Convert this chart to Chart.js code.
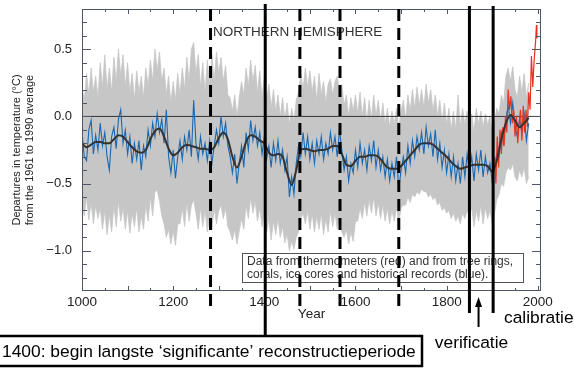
<!DOCTYPE html>
<html>
<head>
<meta charset="utf-8">
<script src="https://cdn.jsdelivr.net/npm/chart.js@4/dist/chart.umd.min.js"></script>
<style>
  html, body { margin: 0; padding: 0; background: #fff; }
  #wrap { width: 575px; height: 370px; }
</style>
</head>
<body>
<div id="wrap"><canvas id="grafiek" width="575" height="370"></canvas></div>
<script>
// Years of the reconstruction (every 5 years) and of the smoothed curve (every 10 years)
const reconStart = 1000, reconStep = 5, smoothStep = 10;

// Blue: proxy reconstruction (tree rings, corals, ice cores, historical records)
const reconValues = [
  -0.12,-0.30,-0.33,-0.10,-0.03,-0.28,-0.14,-0.25,-0.05,-0.22,
  -0.12,-0.30,-0.40,-0.15,-0.08,-0.24,-0.02,0.05,-0.20,-0.10,
  -0.28,-0.15,-0.35,-0.20,-0.32,-0.18,-0.40,-0.22,-0.30,-0.10,
  -0.22,-0.05,-0.15,0.02,-0.12,-0.02,-0.20,0.05,-0.30,-0.42,
  -0.25,-0.46,-0.30,-0.18,-0.32,-0.15,-0.25,-0.10,-0.30,0.12,
  -0.20,-0.32,-0.15,-0.28,-0.20,-0.33,-0.18,-0.35,-0.22,-0.10,
  -0.20,0.00,-0.15,-0.05,-0.22,-0.30,-0.42,-0.28,-0.50,-0.35,
  -0.22,-0.38,-0.12,-0.25,-0.03,-0.18,-0.08,-0.22,-0.12,-0.28,
  -0.15,-0.32,-0.22,-0.38,-0.20,-0.33,-0.18,-0.35,-0.25,-0.40,
  -0.30,-0.60,-0.45,-0.58,-0.35,-0.22,-0.30,-0.12,-0.28,-0.15,
  -0.32,-0.20,-0.35,-0.18,-0.28,-0.15,-0.32,-0.20,-0.28,-0.12,
  -0.25,-0.15,-0.30,-0.10,-0.25,-0.40,-0.30,-0.48,-0.35,-0.42,
  -0.25,-0.38,-0.20,-0.35,-0.25,-0.40,-0.22,-0.33,-0.18,-0.38,
  -0.25,-0.40,-0.30,-0.45,-0.32,-0.48,-0.35,-0.45,-0.30,-0.54,
  -0.40,-0.30,-0.42,-0.22,-0.35,-0.18,-0.30,-0.15,-0.25,-0.12,
  -0.28,-0.08,-0.22,-0.13,-0.30,-0.10,-0.32,-0.20,-0.38,-0.25,
  -0.42,-0.28,-0.45,-0.30,-0.48,-0.35,-0.50,-0.30,-0.45,-0.28,
  -0.42,-0.30,-0.48,-0.28,-0.40,-0.25,-0.45,-0.30,-0.42,-0.35,
  -0.49,-0.38,-0.28,-0.30,-0.12,-0.20,-0.02,0.08,-0.05,0.10,
  -0.08,-0.15,-0.02,-0.12,0.02,-0.18,-0.05
];

// Grey: upper and lower limits of the uncertainty band
const bandUpper = [
  0.22,0.12,0.32,0.16,0.36,0.18,0.30,0.14,0.40,0.22,
  0.46,0.20,0.36,0.18,0.44,0.26,0.50,0.30,0.46,0.22,
  0.40,0.18,0.32,0.12,0.34,0.18,0.30,0.14,0.36,0.22,
  0.42,0.26,0.50,0.34,0.48,0.26,0.36,0.16,0.30,0.10,
  0.26,0.12,0.32,0.16,0.36,0.20,0.44,0.26,0.50,0.55,
  0.32,0.46,0.22,0.40,0.18,0.42,0.24,0.46,0.26,0.48,
  0.32,0.44,0.26,0.38,0.16,0.14,0.04,0.16,0.00,0.14,
  0.26,0.16,0.36,0.22,0.42,0.26,0.38,0.18,0.34,0.14,
  0.30,0.12,0.24,0.06,0.20,0.04,0.16,0.00,0.14,-0.02,
  0.10,-0.06,0.06,-0.04,0.12,0.18,0.32,0.20,0.36,0.22,
  0.34,0.18,0.30,0.12,0.32,0.16,0.26,0.10,0.24,0.28,
  0.16,0.26,0.30,0.18,0.24,0.08,0.16,0.00,0.14,0.04,
  0.16,0.02,0.18,0.00,0.14,-0.04,0.12,-0.02,0.16,0.00,
  0.12,-0.04,0.10,-0.06,0.06,-0.08,0.04,-0.06,0.06,-0.08,
  0.04,0.12,-0.02,0.16,0.04,0.20,0.06,0.22,0.08,0.20,
  0.06,0.24,0.10,0.20,0.04,0.16,0.00,0.12,-0.04,0.10,
  -0.06,0.06,-0.10,0.04,-0.10,0.16,-0.08,0.06,-0.06,0.04,
  -0.10,0.02,-0.12,0.06,-0.06,0.04,-0.08,0.02,-0.06,0.00,
  -0.12,-0.04,0.06,0.02,0.16,0.10,0.30,0.36,0.26,0.37,
  0.20,0.14,0.30,0.18,0.32,0.14,0.25
];
const bandLower = [
  -0.65,-0.74,-0.60,-0.77,-0.64,-0.80,-0.66,-0.76,-0.68,-0.84,
  -0.70,-0.88,-0.73,-0.86,-0.66,-0.82,-0.63,-0.78,-0.68,-0.84,
  -0.70,-0.87,-0.72,-0.82,-0.68,-0.86,-0.74,-0.84,-0.66,-0.78,
  -0.60,-0.74,-0.56,-0.55,-0.63,-0.74,-0.80,-0.90,-0.84,-0.95,
  -0.85,-0.96,-0.80,-0.80,-0.68,-0.82,-0.64,-0.78,-0.66,-0.62,
  -0.72,-0.84,-0.68,-0.82,-0.70,-0.86,-0.73,-0.84,-0.68,-0.80,
  -0.70,-0.66,-0.76,-0.68,-0.82,-0.86,-0.92,-0.84,-0.95,-0.85,
  -0.76,-0.84,-0.66,-0.76,-0.60,-0.72,-0.63,-0.78,-0.68,-0.82,
  -0.72,-0.86,-0.76,-0.92,-0.78,-0.88,-0.76,-0.90,-0.82,-0.94,
  -0.88,-1.00,-0.93,-0.99,-0.90,-0.86,-0.76,-0.72,-0.80,-0.70,
  -0.84,-0.72,-0.86,-0.74,-0.84,-0.72,-0.88,-0.76,-0.86,-0.70,
  -0.82,-0.72,-0.84,-0.74,-0.86,-0.90,-0.84,-0.95,-0.86,-0.93,
  -0.78,-0.78,-0.68,-0.76,-0.64,-0.74,-0.62,-0.72,-0.60,-0.74,
  -0.64,-0.76,-0.66,-0.78,-0.68,-0.80,-0.70,-0.78,-0.68,-0.80,
  -0.68,-0.66,-0.66,-0.60,-0.64,-0.58,-0.60,-0.56,-0.58,-0.54,
  -0.56,-0.56,-0.60,-0.58,-0.62,-0.60,-0.66,-0.64,-0.70,-0.68,
  -0.72,-0.70,-0.76,-0.72,-0.78,-0.74,-0.80,-0.72,-0.76,-0.70,
  -0.74,-0.68,-0.82,-0.70,-0.78,-0.66,-0.80,-0.68,-0.76,-0.70,
  -0.80,-0.72,-0.62,-0.58,-0.50,-0.52,-0.42,-0.38,-0.40,-0.35,
  -0.45,-0.48,-0.40,-0.45,-0.38,-0.50,-0.45
];

// Black: smoothed curve
const smoothValues = [
  -0.20,-0.23,-0.21,-0.19,-0.19,-0.20,-0.20,-0.17,-0.14,-0.15,
  -0.19,-0.23,-0.26,-0.27,-0.25,-0.17,-0.11,-0.09,-0.15,-0.24,
  -0.29,-0.27,-0.23,-0.21,-0.22,-0.23,-0.24,-0.24,-0.25,-0.23,
  -0.16,-0.12,-0.17,-0.30,-0.38,-0.30,-0.19,-0.14,-0.15,-0.18,
  -0.20,-0.27,-0.29,-0.28,-0.30,-0.42,-0.51,-0.40,-0.25,-0.24,
  -0.25,-0.26,-0.25,-0.25,-0.24,-0.22,-0.22,-0.28,-0.36,-0.37,
  -0.33,-0.30,-0.30,-0.29,-0.29,-0.30,-0.34,-0.38,-0.39,-0.39,
  -0.37,-0.33,-0.29,-0.25,-0.21,-0.20,-0.20,-0.21,-0.24,-0.27,
  -0.30,-0.34,-0.37,-0.39,-0.38,-0.37,-0.36,-0.36,-0.36,-0.37,
  -0.41,-0.33,-0.17,-0.05,0.01,-0.03,-0.08,-0.05,-0.01
];

// Red: thermometer data
const thermoYears = [1905,1908,1911,1914,1917,1920,1923,1926,1929,1932,1935,1938,1941,1944,1947,1950,
  1953,1956,1959,1962,1965,1968,1971,1974,1977,1980,1983,1986,1989,1992,1995,1997,1998];
const thermoValues = [-0.30,-0.50,-0.15,-0.38,-0.10,-0.28,-0.08,-0.22,0.00,-0.12,0.20,0.05,0.15,-0.05,0.05,-0.15,
  0.00,-0.20,-0.05,0.05,-0.18,0.08,-0.12,0.05,-0.08,0.18,0.05,0.45,0.22,0.42,0.55,0.68,0.58];

// Axes
const xTicks = [1000, 1200, 1400, 1600, 1800, 2000];
const yTicks = [-1.0, -0.5, 0.0, 0.5];
const xMin = 1000, xMax = 2007, yMin = -1.3, yMax = 0.8;

// Annotation years
const dashedYears = [1282, 1478, 1566, 1695];
const startYear = 1402;
const verifYears = [1850, 1902];
const arrowYear = 1870;

const FONT = "'Liberation Sans', Arial, Helvetica, sans-serif";

function yearsFrom(start, step, n) {
  const out = [];
  for (let i = 0; i < n; i++) out.push(start + i * step);
  return out;
}

function toPoints(xs, ys) {
  return ys.map((v, i) => ({ x: xs[i], y: v }));
}

const reconYears = yearsFrom(reconStart, reconStep, reconValues.length);
const smoothYears = yearsFrom(reconStart, smoothStep, smoothValues.length);

// Kader, streepjes en de extra annotaties (lijnen, kaders, teksten)
const overlay = {
  id: 'overlay',
  afterDraw(chart) {
    const { ctx, chartArea: a, scales: { x, y } } = chart;
    ctx.save();

    // Kader met streepjes
    ctx.strokeStyle = '#4f5668';
    ctx.lineWidth = 1;
    ctx.strokeRect(Math.round(a.left) + 0.5, Math.round(a.top) + 0.5,
      Math.round(a.right - a.left) - 1, Math.round(a.bottom - a.top) - 1);
    ctx.beginPath();
    for (let yr = 1050; yr <= 2000; yr += 50) {
      const px = Math.round(x.getPixelForValue(yr)) + 0.5;
      const len = yr % 100 === 0 ? 5 : 3;
      ctx.moveTo(px, a.bottom); ctx.lineTo(px, a.bottom - len);
      ctx.moveTo(px, a.top); ctx.lineTo(px, a.top + len);
    }
    for (let k = -12; k <= 7; k++) {
      const py = Math.round(y.getPixelForValue(k / 10)) + 0.5;
      const len = k % 5 === 0 ? 9 : 5;
      ctx.moveTo(a.left, py); ctx.lineTo(a.left + len, py);
      ctx.moveTo(a.right, py); ctx.lineTo(a.right - len, py);
    }
    ctx.stroke();

    // Titel in de grafiek
    ctx.fillStyle = '#333';
    ctx.font = '13.5px ' + FONT;
    ctx.textAlign = 'left';
    ctx.textBaseline = 'middle';
    ctx.fillText('NORTHERN HEMISPHERE', 213, 32);

    // Legenda kader
    ctx.fillStyle = '#fff';
    ctx.fillRect(242, 253, 281, 29);
    ctx.strokeStyle = '#555';
    ctx.lineWidth = 1;
    ctx.strokeRect(242.5, 253.5, 281, 29);
    ctx.fillStyle = '#333';
    ctx.font = '12px ' + FONT;
    ctx.fillText('Data from thermometers (red) and from tree rings,', 247, 262);
    ctx.fillText('corals, ice cores and historical records (blue).', 247, 274.5);

    // Gestreepte lijnen
    ctx.strokeStyle = '#000';
    ctx.lineWidth = 3;
    ctx.setLineDash([12, 7]);
    dashedYears.forEach((yr, i) => {
      const px = x.getPixelForValue(yr);
      ctx.beginPath();
      ctx.moveTo(px, a.top);
      ctx.lineTo(px, i === 0 ? 313 : 309);
      ctx.stroke();
    });
    ctx.setLineDash([]);

    // Doorgetrokken lijnen
    let px = x.getPixelForValue(startYear);
    ctx.beginPath();
    ctx.moveTo(px, 4);
    ctx.lineTo(px, 336);
    ctx.stroke();
    verifYears.forEach(yr => {
      const p = x.getPixelForValue(yr);
      ctx.beginPath();
      ctx.moveTo(p, 6);
      ctx.lineTo(p, 313);
      ctx.stroke();
    });

    // Pijl naar verificatie
    px = x.getPixelForValue(arrowYear);
    ctx.lineWidth = 2;
    ctx.beginPath();
    ctx.moveTo(px, 327);
    ctx.lineTo(px, 304);
    ctx.stroke();
    ctx.fillStyle = '#000';
    ctx.beginPath();
    ctx.moveTo(px, 297);
    ctx.lineTo(px - 3.5, 307);
    ctx.lineTo(px + 3.5, 307);
    ctx.closePath();
    ctx.fill();

    // Onderste kader
    ctx.fillStyle = '#fff';
    ctx.fillRect(-2, 336, 424, 30);
    ctx.lineWidth = 2.5;
    ctx.strokeRect(-2, 336, 424, 30);
    ctx.fillStyle = '#000';
    ctx.font = '17.4px ' + FONT;
    ctx.textBaseline = 'middle';
    ctx.fillText('1400: begin langste \u2018significante\u2019 reconstructieperiode', 2, 352);

    ctx.textAlign = 'center';
    ctx.fillText('verificatie', 471.5, 343);
    ctx.textAlign = 'left';
    ctx.fillText('calibratie', 504, 318);

    ctx.restore();
  }
};

function createChart() {
  const ctx = document.getElementById('grafiek').getContext('2d');
  new Chart(ctx, {
    type: 'line',
    data: {
      datasets: [
        {
          label: 'upper',
          data: toPoints(reconYears, bandUpper),
          borderColor: '#c6c6c6',
          borderWidth: 0.8,
          backgroundColor: '#c6c6c6',
          fill: false,
          order: 6
        },
        {
          label: 'lower',
          data: toPoints(reconYears, bandLower),
          borderColor: '#c6c6c6',
          borderWidth: 0.8,
          backgroundColor: '#c6c6c6',
          fill: '-1',
          order: 5
        },
        {
          label: 'zero',
          data: toPoints([xMin, xMax], [0, 0]),
          borderColor: '#333',
          borderWidth: 1,
          order: 4
        },
        {
          label: 'reconstruction',
          data: toPoints(reconYears, reconValues),
          borderColor: '#1a68b2',
          borderWidth: 1.1,
          tension: 0,
          order: 3
        },
        {
          label: 'smoothed',
          data: toPoints(smoothYears, smoothValues),
          borderColor: '#333',
          borderWidth: 2,
          cubicInterpolationMode: 'monotone',
          order: 1
        },
        {
          label: 'thermometers',
          data: toPoints(thermoYears, thermoValues),
          borderColor: '#e8321f',
          borderWidth: 1.2,
          tension: 0,
          order: 2
        }
      ]
    },
    options: {
      responsive: false,
      animation: false,
      devicePixelRatio: 1,
      layout: { padding: { top: 9, right: 34, bottom: 0, left: 0 } },
      elements: { point: { radius: 0, hoverRadius: 0 } },
      plugins: { legend: { display: false }, tooltip: { enabled: false } },
      scales: {
        x: {
          type: 'linear',
          min: xMin,
          max: xMax,
          grid: { display: false, drawTicks: false },
          border: { display: false },
          afterBuildTicks: scale => { scale.ticks = xTicks.map(v => ({ value: v })); },
          afterFit: scale => {
            scale.height = 79;
            scale.paddingLeft = 0; scale.paddingRight = 0;
          },
          ticks: {
            padding: 3,
            color: '#222',
            font: { family: FONT, size: 13.5 },
            maxRotation: 0,
            callback: v => String(v)
          },
          title: {
            display: true,
            text: 'Year',
            color: '#222',
            font: { family: FONT, size: 13.5 },
            padding: { top: 0, bottom: 48 }
          }
        },
        y: {
          type: 'linear',
          min: yMin,
          max: yMax,
          grid: { display: false, drawTicks: false },
          border: { display: false },
          afterBuildTicks: scale => { scale.ticks = yTicks.map(v => ({ value: v })); },
          afterFit: scale => {
            scale.width = 82;
            scale.paddingTop = 0; scale.paddingBottom = 0;
          },
          ticks: {
            padding: 10,
            color: '#222',
            font: { family: FONT, size: 13 },
            callback: v => (v < 0 ? '\u2212' : '') + Math.abs(v).toFixed(1)
          },
          title: {
            display: true,
            text: ['Departures in temperature (\u00b0C)', 'from the 1961 to 1990 average'],
            color: '#222',
            font: { family: FONT, size: 11, lineHeight: 1.23 },
            padding: { top: 10, bottom: 0 }
          }
        }
      }
    },
    plugins: [overlay]
  });
}

document.addEventListener('DOMContentLoaded', createChart);
</script>
</body>
</html>
